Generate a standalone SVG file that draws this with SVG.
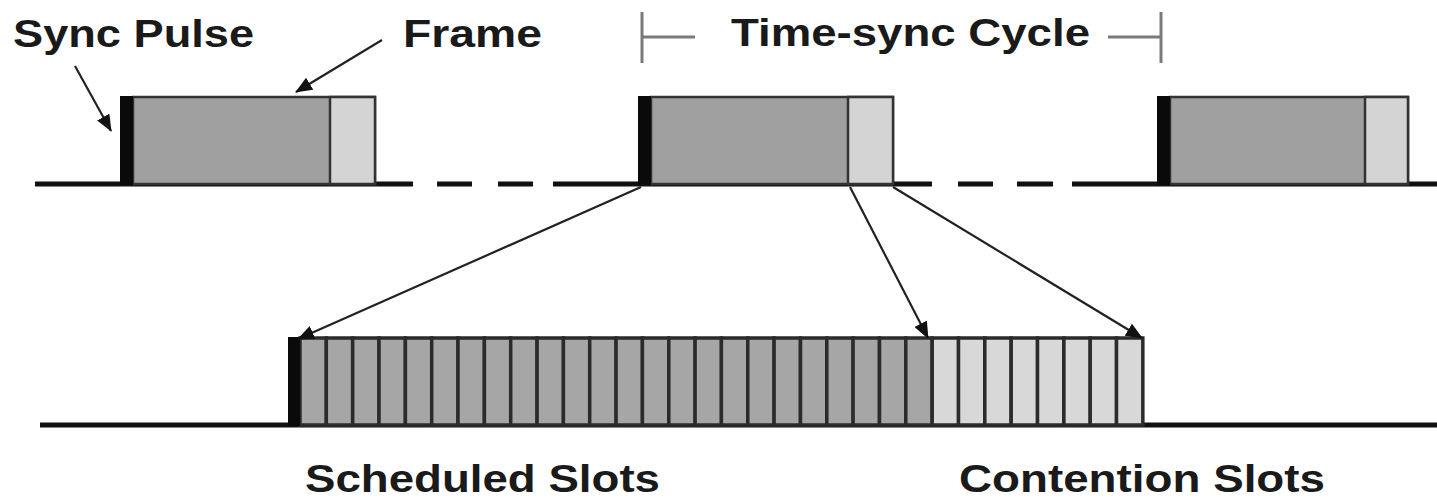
<svg xmlns="http://www.w3.org/2000/svg" width="1437" height="502" viewBox="0 0 1437 502">
  <style>
    .lbl { font-family: "Liberation Sans", Arial, sans-serif; font-weight: bold; font-size: 38px; fill: #1a1a1a; }
    .axis { stroke: #111; stroke-width: 5; fill: none; }
    .pulse { fill: #0a0a0a; }
    .frame { fill: #a0a0a0; stroke: #333; stroke-width: 2.5; }
    .cont { fill: #d4d4d4; stroke: #333; stroke-width: 2.5; }
    .slot { fill: #a6a6a6; stroke: #2b2b2b; stroke-width: 3.5; }
    .cslot { fill: #d8d8d8; stroke: #2b2b2b; stroke-width: 3.5; }
    .arrow { stroke: #222; stroke-width: 2.2; fill: none; marker-end: url(#head); }
    .bracket { stroke: #7a7a7a; stroke-width: 3; fill: none; }
  </style>
  <defs>
    <marker id="head" markerUnits="userSpaceOnUse" markerWidth="18" markerHeight="14" refX="16" refY="7" orient="auto">
      <path d="M0,0 L17,7 L0,14 Z" fill="#111"/>
    </marker>
  </defs>
  <rect width="1437" height="502" fill="#fff"/>

  <!-- time axis with gaps between cycles -->
  <g id="timeline">
    <path class="axis" d="M35,184 H413 M437,184 H472 M498,184 H533 M553,184 H932 M958,184 H993 M1017,184 H1053 M1072,184 H1437"/>
  </g>

  <!-- frames on the time axis -->
  <g id="frame-1">
    <rect class="frame" x="133" y="97" width="242" height="87"/>
    <rect class="cont" x="330" y="97" width="45" height="87"/>
    <rect class="pulse" x="120" y="96" width="13" height="89"/>
  </g>
  <g id="frame-2">
    <rect class="frame" x="651" y="97" width="242" height="87"/>
    <rect class="cont" x="848" y="97" width="45" height="87"/>
    <rect class="pulse" x="638" y="96" width="13" height="89"/>
  </g>
  <g id="frame-3">
    <rect class="frame" x="1170" y="97" width="238" height="87"/>
    <rect class="cont" x="1365" y="97" width="43" height="87"/>
    <rect class="pulse" x="1157" y="96" width="13" height="89"/>
  </g>

  <!-- expanded frame: 24 scheduled + 8 contention slots -->
  <g id="slot-frame">
    <path class="axis" d="M40,425 H1437"/>
    <g id="scheduled-slots">
      <rect class="slot" x="300.0" y="338" width="26.34" height="87"/>
      <rect class="slot" x="326.3" y="338" width="26.34" height="87"/>
      <rect class="slot" x="352.7" y="338" width="26.34" height="87"/>
      <rect class="slot" x="379.0" y="338" width="26.34" height="87"/>
      <rect class="slot" x="405.4" y="338" width="26.34" height="87"/>
      <rect class="slot" x="431.7" y="338" width="26.34" height="87"/>
      <rect class="slot" x="458.0" y="338" width="26.34" height="87"/>
      <rect class="slot" x="484.4" y="338" width="26.34" height="87"/>
      <rect class="slot" x="510.7" y="338" width="26.34" height="87"/>
      <rect class="slot" x="537.1" y="338" width="26.34" height="87"/>
      <rect class="slot" x="563.4" y="338" width="26.34" height="87"/>
      <rect class="slot" x="589.7" y="338" width="26.34" height="87"/>
      <rect class="slot" x="616.1" y="338" width="26.34" height="87"/>
      <rect class="slot" x="642.4" y="338" width="26.34" height="87"/>
      <rect class="slot" x="668.8" y="338" width="26.34" height="87"/>
      <rect class="slot" x="695.1" y="338" width="26.34" height="87"/>
      <rect class="slot" x="721.4" y="338" width="26.34" height="87"/>
      <rect class="slot" x="747.8" y="338" width="26.34" height="87"/>
      <rect class="slot" x="774.1" y="338" width="26.34" height="87"/>
      <rect class="slot" x="800.5" y="338" width="26.34" height="87"/>
      <rect class="slot" x="826.8" y="338" width="26.34" height="87"/>
      <rect class="slot" x="853.1" y="338" width="26.34" height="87"/>
      <rect class="slot" x="879.5" y="338" width="26.34" height="87"/>
      <rect class="slot" x="905.8" y="338" width="26.34" height="87"/>
    </g>
    <g id="contention-slots">
      <rect class="cslot" x="932.2" y="338" width="26.34" height="87"/>
      <rect class="cslot" x="958.5" y="338" width="26.34" height="87"/>
      <rect class="cslot" x="984.8" y="338" width="26.34" height="87"/>
      <rect class="cslot" x="1011.2" y="338" width="26.34" height="87"/>
      <rect class="cslot" x="1037.5" y="338" width="26.34" height="87"/>
      <rect class="cslot" x="1063.9" y="338" width="26.34" height="87"/>
      <rect class="cslot" x="1090.2" y="338" width="26.34" height="87"/>
      <rect class="cslot" x="1116.5" y="338" width="26.34" height="87"/>
    </g>
    <rect class="pulse" x="288" y="337" width="12" height="89"/>
  </g>

  <!-- cycle span bracket -->
  <g id="cycle-bracket">
    <path class="bracket" d="M642,12 V63 M642,37 H695"/>
    <path class="bracket" d="M1108,37 H1161 M1161,12 V63"/>
  </g>

  <!-- pointers -->
  <g id="connectors">
    <line class="arrow" x1="75" y1="66" x2="111" y2="131"/>
    <line class="arrow" x1="382" y1="40" x2="296" y2="92"/>
    <line class="arrow" x1="641" y1="187" x2="298" y2="339"/>
    <line class="arrow" x1="850" y1="187" x2="928" y2="338"/>
    <line class="arrow" x1="893" y1="187" x2="1142" y2="338"/>
  </g>

  <!-- labels -->
  <g id="labels">
    <text class="lbl" x="13" y="47" textLength="241" lengthAdjust="spacingAndGlyphs">Sync Pulse</text>
    <text class="lbl" x="403" y="47" textLength="139" lengthAdjust="spacingAndGlyphs">Frame</text>
    <text class="lbl" x="731" y="46" textLength="359" lengthAdjust="spacingAndGlyphs">Time-sync Cycle</text>
    <text class="lbl" x="305" y="492" textLength="355" lengthAdjust="spacingAndGlyphs">Scheduled Slots</text>
    <text class="lbl" x="959" y="492" textLength="366" lengthAdjust="spacingAndGlyphs">Contention Slots</text>
  </g>
</svg>
